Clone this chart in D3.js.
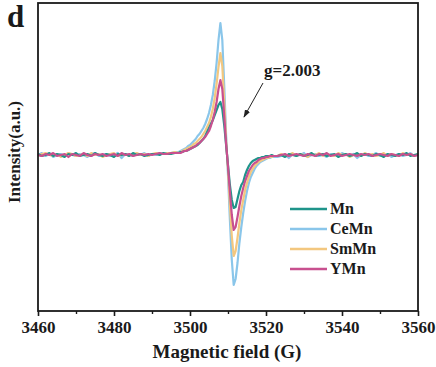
<!DOCTYPE html>
<html>
<head>
<meta charset="utf-8">
<script src="https://cdn.jsdelivr.net/npm/d3@7"></script>
<style>
  body { margin: 0; background: #fff; }
</style>
</head>
<body>
<svg width="436" height="367"></svg>
<script>
// Magnetic field grid (G)
const fieldLeft = [3460,3461,3462,3463,3464,3465,3466,3467,3468,3469,3470,3471,3472,3473,3474,3475,3476,3477,3478,3479,
  3480,3481,3482,3483,3484,3485,3486,3487,3488,3489,3490,3491,3492,3493,3494,3495,3496];
const fieldCenter = [3497,3497.5,3498,3498.5,3499,3499.5,3500,3500.5,3501,3501.5,3502,3502.5,3503,3503.5,3504,3504.5,
  3505,3505.5,3506,3506.5,3507,3507.5,3508,3508.5,3509,3509.5,3510,3510.5,3511,3511.5,3512,3512.5,3513,3513.5,
  3514,3514.5,3515,3515.5,3516,3516.5,3517,3517.5,3518,3518.5,3519,3519.5,3520,3520.5,3521,3521.5,3522];
const fieldRight = [3523,3524,3525,3526,3527,3528,3529,3530,3531,3532,3533,3534,3535,3536,3537,3538,3539,3540,3541,3542,
  3543,3544,3545,3546,3547,3548,3549,3550,3551,3552,3553,3554,3555,3556,3557,3558,3559,3560];

// Intensity (a.u.), left flat / signal / right flat
const mnValues = [
  1,-1,0,2,-1,1,0,-2,1,0, 2,-1,0,1,-1,2,0,-1,1,0, -2,1,0,1,-1,2,0,1,-1,0, 1,1,0,2,1,1,2,
  2,3,3,4,4,5,6,7,8,9,10,12,14,16,19,23,27,31,35,40,45,50,53,
  46,30,10,-10,-30,-45,-53,-52,-44,-36,-30,-27,-20,-15,-11,-8,-6,-5,-4,-3,-3,-2,-2,-1,-1,-1,0,-1,
  -1,0,-2,1,0,-1,1,-1,0,2, -1,0,1,-1,0,1,-2,0,1,-1, 0,2,-1,1,0,-1,1,0,-2,1, 0,-1,1,0,2,-1,0,1];
const ceMnValues = [
  0,2,-1,1,-2,0,1,-1,2,0, -1,1,0,-2,1,2,-1,0,1,-1, 0,2,-3,1,0,-1,1,0,2,-1, 1,0,2,1,2,2,3,
  3,4,5,6,7,9,10,12,14,16,19,21,24,27,31,36,42,50,60,74,92,115,132,
  115,70,20,-20,-65,-105,-130,-124,-108,-88,-72,-58,-46,-36,-28,-22,-18,-14,-11,-9,-7,-6,-5,-4,-3,-3,-2,-2,
  -2,-1,0,-3,1,-1,0,2,-2,0, 1,-1,0,-2,1,0,-1,2,0,-1, 1,-3,0,1,-1,0,2,-1,0,1, -2,0,1,-1,0,2,-1,0];
const smMnValues = [
  -1,1,2,0,-1,1,-2,0,2,1, -1,0,1,-1,2,0,1,-2,0,1, 2,-1,0,1,-1,1,2,0,1,-1, 1,2,1,1,2,2,3,
  2,3,4,5,6,7,8,9,11,12,14,16,18,21,24,28,32,38,46,57,71,88,102,
  89,54,15,-15,-50,-81,-101,-96,-83,-68,-55,-45,-35,-28,-22,-17,-14,-11,-9,-7,-6,-5,-4,-3,-3,-2,-2,-1,
  -1,1,-1,0,2,-1,1,0,-2,1, 0,2,-1,1,0,-1,2,0,1,-2, 0,1,-1,2,0,1,-1,0,2,-1, 1,0,-1,2,0,1,-1,1];
const yMnValues = [
  0,-1,1,0,2,-1,0,1,-2,1, 0,-1,2,0,-1,1,0,1,-1,0, 1,-1,2,0,1,-1,0,1,0,1, 0,1,2,1,1,2,2,
  2,2,3,4,4,5,6,7,8,9,11,12,14,16,18,21,24,29,35,43,53,66,75,
  66,40,11,-11,-37,-60,-75,-72,-62,-51,-41,-33,-26,-21,-16,-13,-10,-8,-7,-5,-4,-3,-3,-2,-2,-1,-1,-1,
  -1,0,1,-1,0,1,0,-1,1,0, -1,1,0,2,-1,0,1,-1,0,1, 0,-1,1,0,1,-1,0,1,0,-1, 1,0,-1,1,0,1,-1,0];

const seriesNames = ["Mn", "CeMn", "SmMn", "YMn"];
const seriesColors = ["#1f948a", "#8ac6ea", "#f3c77f", "#c8508f"];
const xTicks = [3460, 3480, 3500, 3520, 3540, 3560];
const xMinorTicks = [3470, 3490, 3510, 3530, 3550];

const field = fieldLeft.concat(fieldCenter, fieldRight);
const values = { Mn: mnValues, CeMn: ceMnValues, SmMn: smMnValues, YMn: yMnValues };

const serif = "'Liberation Serif', 'Times New Roman', Times, serif";
const svg = d3.select("svg")
  .attr("font-family", serif)
  .attr("font-weight", "bold");
const plotLeft = 38, plotRight = 418, plotTop = 3, plotBottom = 311;

const xScale = d3.scaleLinear().domain([3460, 3560]).range([plotLeft, plotRight]);
const yScale = d3.scaleLinear().domain([-156, 152]).range([plotBottom, plotTop]);

// Curves (drawing order so pink ends up on top)
const line = d3.line()
  .x(d => xScale(d[0]))
  .y(d => yScale(d[1]));

["CeMn", "SmMn", "Mn", "YMn"].forEach(name => {
  const i = seriesNames.indexOf(name);
  const pts = field.map((f, k) => [f, values[name][k]]);
  svg.append("path")
    .datum(pts)
    .attr("fill", "none")
    .attr("stroke", seriesColors[i])
    .attr("stroke-width", 2.2)
    .attr("stroke-linejoin", "round")
    .attr("d", line);
});

// Frame
svg.append("rect")
  .attr("x", plotLeft).attr("y", plotTop)
  .attr("width", plotRight - plotLeft).attr("height", plotBottom - plotTop)
  .attr("fill", "none").attr("stroke", "#1a1a1a").attr("stroke-width", 1.8);

// X axis with minor ticks
const xAxis = d3.axisBottom(xScale).tickValues(xTicks).tickSize(5).tickSizeOuter(0).tickPadding(5).tickFormat(d => d);
const gx = svg.append("g")
  .attr("transform", `translate(0,${plotBottom})`)
  .call(xAxis)
  .attr("font-family", serif)
  .attr("font-size", 17);
gx.select(".domain").remove();
gx.selectAll("line").attr("stroke", "#1a1a1a").attr("stroke-width", 1.6);
gx.selectAll("text").attr("fill", "#1a1a1a");

const gxMinor = svg.append("g")
  .attr("transform", `translate(0,${plotBottom})`)
  .call(d3.axisBottom(xScale).tickValues(xMinorTicks).tickSize(3).tickFormat(""));
gxMinor.select(".domain").remove();
gxMinor.selectAll("line").attr("stroke", "#1a1a1a").attr("stroke-width", 1.4);

// Axis titles
svg.append("text")
  .text("Magnetic field (G)")
  .attr("x", (plotLeft + plotRight) / 2 - 1)
  .attr("y", 358)
  .attr("text-anchor", "middle")
  .attr("fill", "#1a1a1a")
  .attr("font-size", 19);

svg.append("text")
  .text("Intensity(a.u.)")
  .attr("transform", "rotate(-90)")
  .attr("x", -152)
  .attr("y", 20)
  .attr("text-anchor", "middle")
  .attr("fill", "#1a1a1a")
  .attr("font-size", 17);

// Panel letter
svg.append("text")
  .text("d")
  .attr("x", 7)
  .attr("y", 27)
  .attr("fill", "#1a1a1a")
  .attr("font-size", 31);

// g-value annotation with arrow
svg.append("defs").append("marker")
  .attr("id", "arrowhead")
  .attr("viewBox", "0 0 10 10")
  .attr("refX", 9).attr("refY", 5)
  .attr("markerWidth", 8).attr("markerHeight", 8)
  .attr("orient", "auto")
  .append("path")
  .attr("d", "M0,1.5 L10,5 L0,8.5 Z")
  .attr("fill", "#222");

svg.append("line")
  .attr("x1", 263).attr("y1", 83)
  .attr("x2", 244).attr("y2", 117)
  .attr("stroke", "#222").attr("stroke-width", 1)
  .attr("marker-end", "url(#arrowhead)");

svg.append("text")
  .text("g=2.003")
  .attr("x", 264)
  .attr("y", 76)
  .attr("fill", "#1a1a1a")
  .attr("font-size", 17);

// Legend
const legend = svg.append("g").attr("transform", "translate(290, 209)");
seriesNames.forEach((name, i) => {
  legend.append("line")
    .attr("x1", 0).attr("x2", 37)
    .attr("y1", i * 20).attr("y2", i * 20)
    .attr("stroke", seriesColors[i])
    .attr("stroke-width", 2.5);
  legend.append("text")
    .text(name)
    .attr("x", 40)
    .attr("y", i * 20 + 5)
    .attr("fill", "#1a1a1a")
    .attr("font-size", 16);
});
</script>
</body>
</html>
